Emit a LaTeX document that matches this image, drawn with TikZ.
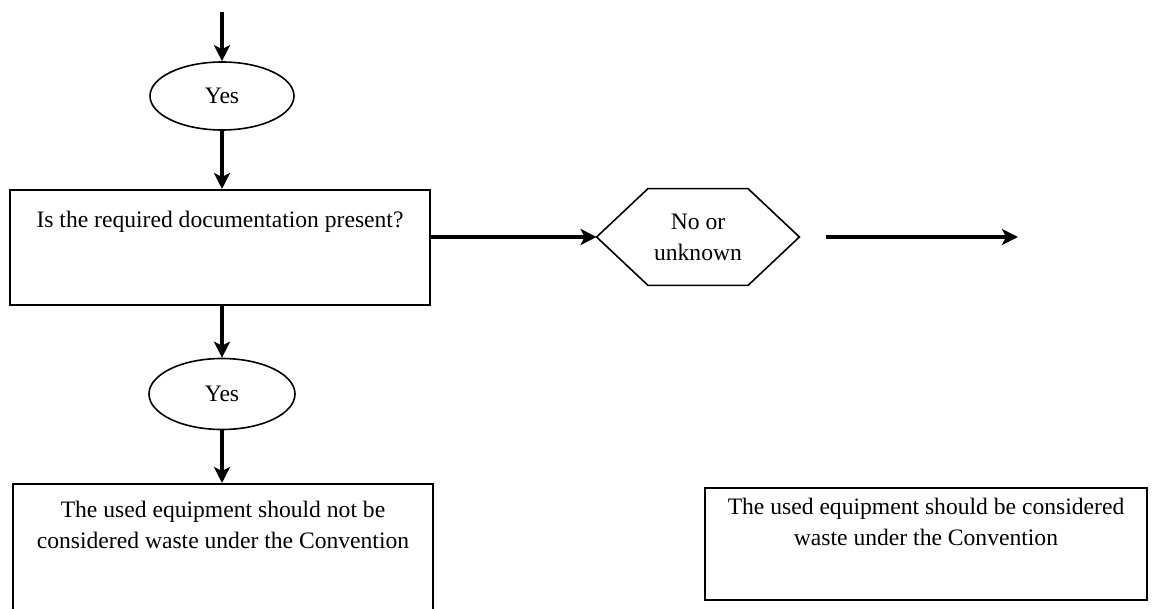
\documentclass[tikz,border=0pt]{standalone}
\usepackage{fontspec}
\setmainfont{Liberation Serif}
\usetikzlibrary{shapes.geometric,arrows.meta}

\begin{document}
\begin{tikzpicture}[x=0.5pt, y=-0.5pt,
    font=\fontsize{11.8}{15.5}\selectfont,
    conn/.style={-{Stealth[length=8pt,width=8pt,inset=2pt]}, line width=1.8pt},
    box/.style={draw, line width=1pt, rectangle, inner sep=0pt},
    oval/.style={draw, line width=0.8pt, ellipse, inner sep=0pt, minimum width=72pt, minimum height=34pt},
    txt/.style={align=center, inner sep=0pt}]
    \clip (0,0) rectangle (1163,609);
    \coordinate (start) at (222,12);
    \node[oval] (yes1) at (222,96) {Yes};
    \node[box, minimum width=210pt, minimum height=57.5pt] (doc) at (220,247.5) {};
    \node[txt] (doctxt) at (220,222) {Is the required documentation present?};
    \node[oval, minimum width=73pt, minimum height=35.5pt] (yes2) at (222,394) {Yes};
    \node[box, minimum width=210pt, minimum height=78pt] (notwaste) at (223,562) {};
    \node[txt] (notwastetxt) at (223,525) {The used equipment should not be\\considered waste under the Convention};
    % No or unknown branch
    \node[txt, minimum width=101pt, minimum height=48pt] (hex) at (698,237) {No or\\unknown};
    \draw[line width=0.8pt] (hex.west) -- ([xshift=-25pt]hex.north) -- ([xshift=25pt]hex.north)
        -- (hex.east) -- ([xshift=25pt]hex.south) -- ([xshift=-25pt]hex.south) -- cycle;
    \coordinate (outend) at (1018,237);
    \node[box, minimum width=221pt, minimum height=56pt] (waste) at (926,544) {};
    \node[txt] (wastetxt) at (926,522) {The used equipment should be considered\\waste under the Convention};
    % Connectors
    \draw[conn] (start) -- (yes1.north);
    \draw[conn] (yes1.south) -- (yes1.south |- doc.north);
    \draw[conn] (yes2 |- doc.south) -- (yes2.north);
    \draw[conn] (yes2.south) -- (yes2.south |- notwaste.north);
    \draw[conn] (doc.east |- hex) -- (hex.west);
    \draw[conn, shorten <=13.5pt] (hex.east) -- (outend);
\end{tikzpicture}
\end{document}
